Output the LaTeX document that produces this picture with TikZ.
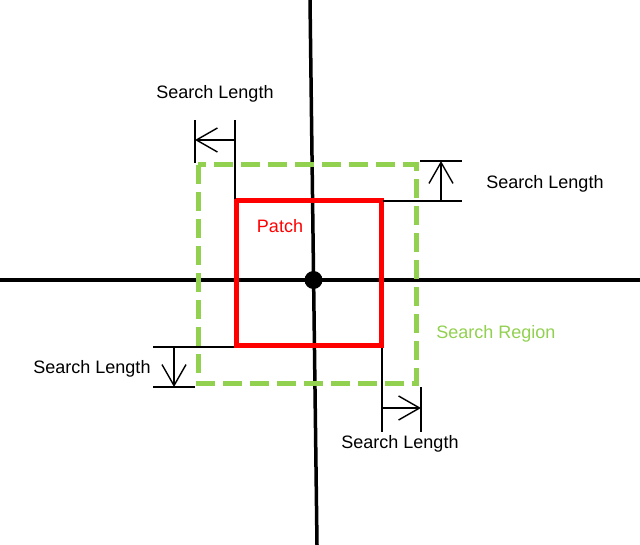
\documentclass[tikz,border=0pt]{standalone}
\usepackage{fontspec}
\setmainfont{Liberation Sans}
\usetikzlibrary{arrows.meta}
\definecolor{patchred}{HTML}{FF0000}
\definecolor{regiongreen}{HTML}{92D050}
\tikzset{
  axisline/.style={line width=3.5pt, black},
  extline/.style={line width=1.4pt, black},
  dimarrow/.style={line width=1.4pt, black, -{Straight Barb[length=21pt,width=24pt,line width=1.4pt]}},
  lbl/.style={font=\fontsize{18pt}{20pt}\selectfont, inner sep=0pt},
  patchbox/.style={line width=5pt, patchred},
  regionbox/.style={line width=5pt, regiongreen, dash pattern=on 19pt off 8pt}
}
\begin{document}
\begin{tikzpicture}[x=1pt,y=-1pt]
\useasboundingbox (0,0) rectangle (640,545);
% axes
\coordinate (hL) at (0,280);
\coordinate (hR) at (640,280);
\coordinate (vT) at (310,0);
\coordinate (vB) at (317,545);
\draw[axisline] (hL) -- (hR);
\draw[axisline] (vT) -- (vB);
% search region
\coordinate (g1) at (198,165);
\coordinate (g2) at (416,383);
\draw[regionbox] (g1) rectangle (g2);
% patch
\coordinate (p1) at (236,201);
\coordinate (p2) at (381,346);
\draw[patchbox] (p1) rectangle (p2);
% centre dot
\node[circle, fill=black, inner sep=0pt, minimum size=18pt] (dot) at (313.5,280) {};
% top-left dimension
\coordinate (a1) at (195,120); \coordinate (a2) at (195,163);
\coordinate (a3) at (235,120); \coordinate (a4) at (235,199);
\coordinate (a5) at (235,140); \coordinate (a6) at (195,140);
\draw[extline] (a1) -- (a2);
\draw[extline] (a3) -- (a4);
\draw[dimarrow] (a5) -- (a6);
\node[lbl] (l1) at (215,94) {Search Length};
% top-right dimension
\coordinate (b1) at (420,161); \coordinate (b2) at (462,161);
\coordinate (b3) at (383,201); \coordinate (b4) at (462,201);
\coordinate (b5) at (441,201); \coordinate (b6) at (441,161);
\draw[extline] (b1) -- (b2);
\draw[extline] (b3) -- (b4);
\draw[dimarrow] (b5) -- (b6);
\node[lbl] (l2) at (545,184) {Search Length};
% bottom-left dimension
\coordinate (c1) at (153,347); \coordinate (c2) at (234,347);
\coordinate (c3) at (153,387); \coordinate (c4) at (195,387);
\coordinate (c5) at (174,347); \coordinate (c6) at (174,387);
\draw[extline] (c1) -- (c2);
\draw[extline] (c3) -- (c4);
\draw[dimarrow] (c5) -- (c6);
\node[lbl] (l3) at (92,369) {Search Length};
% bottom-right dimension
\coordinate (d1) at (382,348); \coordinate (d2) at (382,432);
\coordinate (d3) at (421,387); \coordinate (d4) at (421,432);
\coordinate (d5) at (382,408); \coordinate (d6) at (421,408);
\draw[extline] (d1) -- (d2);
\draw[extline] (d3) -- (d4);
\draw[dimarrow] (d5) -- (d6);
\node[lbl] (l4) at (400,444) {Search Length};
% labels
\node[lbl, text=patchred] (lp) at (280,226) {Patch};
\node[lbl, text=regiongreen] (lr) at (496,334) {Search Region};
\end{tikzpicture}
\end{document}
